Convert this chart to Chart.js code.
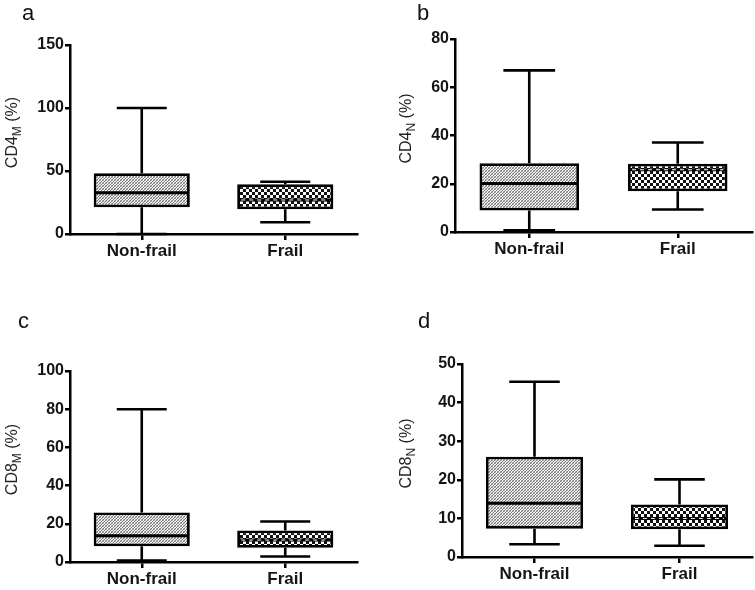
<!DOCTYPE html>
<html><head><meta charset="utf-8">
<script src="https://cdn.jsdelivr.net/npm/chart.js@4.4.0/dist/chart.umd.min.js"></script>
<style>
html,body{margin:0;padding:0;background:#fff}
body{width:755px;height:590px;position:relative;overflow:hidden}
canvas{position:absolute}
</style>
</head><body>
<canvas id="ca" width="372" height="295" style="left:0;top:0"></canvas>
<canvas id="cb" width="378" height="295" style="left:377px;top:0"></canvas>
<canvas id="cc" width="372" height="295" style="left:0;top:295px"></canvas>
<canvas id="cd" width="378" height="295" style="left:377px;top:295px"></canvas>
<script>
// ---- data ----
const categories = ['Non-frail', 'Frail'];

const aMin = [0, 9.3];
const aQ1 = [21.2, 19.6];
const aMedian = [32.8, 27];
const aQ3 = [48.2, 39.4];
const aMax = [100, 41.5];
const aTicks = { max: 150, step: 50 };

const bMin = [0.7, 9.3];
const bQ1 = [8.9, 16.9];
const bMedian = [20.1, 25.8];
const bQ3 = [28.5, 28.3];
const bMax = [67, 37.1];
const bTicks = { max: 80, step: 20 };

const cMin = [0.8, 2.9];
const cQ1 = [8.2, 7.5];
const cMedian = [13.7, 11.5];
const cQ3 = [25.9, 16.5];
const cMax = [80, 21.2];
const cTicks = { max: 100, step: 20 };

const dMin = [3.3, 2.9];
const dQ1 = [7.3, 7.2];
const dMedian = [13.9, 10];
const dQ3 = [26.0, 13.6];
const dMax = [45.4, 20.1];
const dTicks = { max: 50, step: 10 };

// ---- fill patterns ----
function makePattern(size, draw) {
  const c = document.createElement('canvas');
  c.width = size[0]; c.height = size[1];
  const x = c.getContext('2d');
  draw(x);
  return x.createPattern(c, 'repeat');
}
const patNonFrail = makePattern([3, 3], x => {
  x.fillStyle = '#f2f2f2'; x.fillRect(0, 0, 3, 3);
  x.fillStyle = '#7a7a7a'; x.fillRect(0, 0, 1, 1); x.fillRect(2, 1, 1, 1); x.fillRect(1, 2, 1, 1);
  x.fillStyle = '#b8b8b8'; x.fillRect(1, 0, 1, 1); x.fillRect(0, 2, 1, 1);
});
const patFrail = makePattern([6, 6], x => {
  x.fillStyle = '#ffffff'; x.fillRect(0, 0, 6, 6);
  x.fillStyle = '#111111'; x.fillRect(0, 0, 3, 3); x.fillRect(3, 3, 3, 3);
});

const FONT = "'Liberation Sans', Arial, sans-serif";

const boxPlugin = {
  id: 'boxExtras',
  beforeDatasetsDraw(chart) {
    const o = chart.options.plugins.boxExtras;
    const ctx = chart.ctx, y = chart.scales.y;
    const meta = chart.getDatasetMeta(0);
    ctx.save();
    ctx.strokeStyle = '#000'; ctx.lineWidth = 2.6; ctx.lineCap = 'butt';
    meta.data.forEach((el, i) => {
      const cap = el.width * 0.52;
      const yMin = y.getPixelForValue(o.min[i]), yMax = y.getPixelForValue(o.max[i]);
      const yQ1 = y.getPixelForValue(o.q1[i]), yQ3 = y.getPixelForValue(o.q3[i]);
      ctx.beginPath();
      ctx.moveTo(el.x, yQ3); ctx.lineTo(el.x, yMax);
      ctx.moveTo(el.x, yQ1); ctx.lineTo(el.x, yMin);
      ctx.moveTo(el.x - cap / 2, yMax); ctx.lineTo(el.x + cap / 2, yMax);
      ctx.moveTo(el.x - cap / 2, yMin); ctx.lineTo(el.x + cap / 2, yMin);
      ctx.stroke();
    });
    ctx.restore();
  },
  afterDatasetsDraw(chart) {
    const o = chart.options.plugins.boxExtras;
    const ctx = chart.ctx, y = chart.scales.y;
    const meta = chart.getDatasetMeta(0);
    ctx.save();
    meta.data.forEach((el, i) => {
      const ym = y.getPixelForValue(o.median[i]);
      const l = el.x - el.width / 2 + 2, r = el.x + el.width / 2 - 2;
      ctx.setLineDash([]);
      ctx.strokeStyle = '#000'; ctx.lineWidth = 3;
      ctx.beginPath(); ctx.moveTo(l, ym); ctx.lineTo(r, ym); ctx.stroke();
      if (i === 1) {
        ctx.strokeStyle = '#fff'; ctx.lineWidth = 1; ctx.setLineDash([4, 4]);
        ctx.beginPath(); ctx.moveTo(l + 2, ym); ctx.lineTo(r - 2, ym); ctx.stroke();
      }
    });
    ctx.restore();
  },
  afterDraw(chart) {
    const o = chart.options.plugins.boxExtras;
    const ctx = chart.ctx;
    const ca = chart.chartArea;
    ctx.save();
    // panel letter
    ctx.fillStyle = '#111';
    ctx.font = '22px ' + FONT;
    ctx.textBaseline = 'alphabetic'; ctx.textAlign = 'left';
    ctx.fillText(o.letter, o.letterX, o.letterY);
    // rotated y title with subscript
    const big = '16px ' + FONT, small = '12px ' + FONT;
    ctx.font = big; const w1 = ctx.measureText(o.titleMain).width;
    const w3 = ctx.measureText(' (%)').width;
    ctx.font = small; const w2 = ctx.measureText(o.titleSub).width;
    const total = w1 + w2 + w3;
    const cy = (ca.top + ca.bottom) / 2 - 7;
    ctx.translate(o.titleX, cy);
    ctx.rotate(-Math.PI / 2);
    ctx.fillStyle = '#222';
    let x0 = -total / 2;
    ctx.font = big; ctx.fillText(o.titleMain, x0, 0); x0 += w1;
    ctx.font = small; ctx.fillText(o.titleSub, x0, 4); x0 += w2;
    ctx.font = big; ctx.fillText(' (%)', x0, 0);
    ctx.restore();
  }
};

function makeChart(id, W, H, area, vals, ticks, labelInfo) {
  new Chart(document.getElementById(id), {
    type: 'bar',
    data: {
      labels: categories,
      datasets: [{
        data: vals.q1.map((v, i) => [v, vals.q3[i]]),
        backgroundColor: [patNonFrail, patFrail],
        borderColor: '#000',
        borderWidth: 2.8,
        borderSkipped: false,
        barPercentage: 0.67,
        categoryPercentage: 1
      }]
    },
    options: {
      responsive: false,
      animation: false,
      events: [],
      layout: { padding: { left: 0, top: area.top, right: W - area.right, bottom: 0 } },
      plugins: {
        legend: { display: false },
        tooltip: { enabled: false },
        boxExtras: Object.assign({}, vals, labelInfo)
      },
      scales: {
        x: {
          offset: true,
          grid: { display: true, drawOnChartArea: false, drawTicks: true, tickLength: 6, offset: false, color: '#000', lineWidth: 2.5 },
          border: { display: true, color: '#000', width: 2.5 },
          ticks: { color: '#151515', padding: 1, font: { family: FONT, size: 17, weight: 'bold' } },
          afterFit: s => { s.height = H - area.bottom; }
        },
        y: {
          min: 0, max: ticks.max,
          grid: { display: true, drawOnChartArea: false, drawTicks: true, tickLength: 5, color: '#000', lineWidth: 2.5 },
          border: { display: true, color: '#000', width: 2.5 },
          ticks: { stepSize: ticks.step, color: '#151515', padding: 1, font: { family: FONT, size: 16, weight: 'bold' } },
          afterFit: s => { s.width = area.left; }
        }
      }
    },
    plugins: [boxPlugin]
  });
}

makeChart('ca', 372, 295, { left: 70, top: 45, right: 357, bottom: 234 },
  { min: aMin, q1: aQ1, median: aMedian, q3: aQ3, max: aMax }, aTicks,
  { letter: 'a', letterX: 22, letterY: 20, titleMain: 'CD4', titleSub: 'M', titleX: 17 });
makeChart('cb', 378, 295, { left: 78, top: 39, right: 375, bottom: 232 },
  { min: bMin, q1: bQ1, median: bMedian, q3: bQ3, max: bMax }, bTicks,
  { letter: 'b', letterX: 40, letterY: 20, titleMain: 'CD4', titleSub: 'N', titleX: 34 });
makeChart('cc', 372, 295, { left: 70, top: 76, right: 357, bottom: 267 },
  { min: cMin, q1: cQ1, median: cMedian, q3: cQ3, max: cMax }, cTicks,
  { letter: 'c', letterX: 18, letterY: 33, titleMain: 'CD8', titleSub: 'M', titleX: 17 });
makeChart('cd', 378, 295, { left: 85, top: 69, right: 375, bottom: 262 },
  { min: dMin, q1: dQ1, median: dMedian, q3: dQ3, max: dMax }, dTicks,
  { letter: 'd', letterX: 41, letterY: 33, titleMain: 'CD8', titleSub: 'N', titleX: 34 });
</script>
</body></html>
